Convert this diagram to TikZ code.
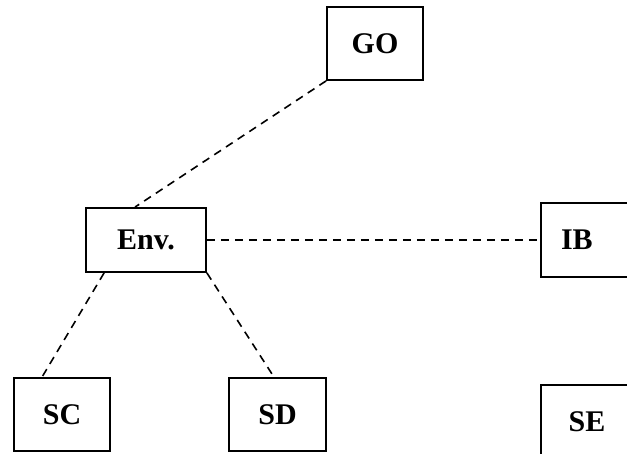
\documentclass[tikz,border=0pt]{standalone}
\usepackage{fontspec}
\setmainfont{Liberation Serif}
\usetikzlibrary{positioning}
\begin{document}
\begin{tikzpicture}[x=1pt,y=-1pt,
    box/.style={draw, line width=1.8pt, inner sep=0pt,
        font=\fontsize{30}{30}\selectfont\bfseries},
    link/.style={line width=1.6pt, dash pattern=on 8pt off 6pt}
    ]
    \useasboundingbox (0,0) rectangle (627,453);

    % top level
    \node[box, minimum width=96pt, minimum height=73pt] (go) at (375,43.5) {GO};

    % middle level
    \node[box, minimum width=120pt, minimum height=64pt] (env) at (146,240) {Env.};
    \node[box, minimum width=110pt, minimum height=74pt,
        text width=70pt, align=left] (ib) at (596,240) {IB};

    % bottom level
    \node[box, minimum width=96pt, minimum height=73pt] (sc) at (62,414.5) {SC};
    \node[box, minimum width=97pt, minimum height=73pt] (sd) at (277.5,414.5) {SD};
    \node[box, minimum width=92pt, minimum height=73pt] (se) at (587,421.5) {SE};

    % links
    \draw[link] (go.south west) -- ([xshift=-11pt]env.north);
    \draw[link] (env.east) -- (ib.west);
    \draw[link] ([xshift=19pt]env.south west) -- ([xshift=-20pt]sc.north);
    \draw[link] (env.south east) -- ([xshift=-3.5pt]sd.north);

\end{tikzpicture}
\end{document}
